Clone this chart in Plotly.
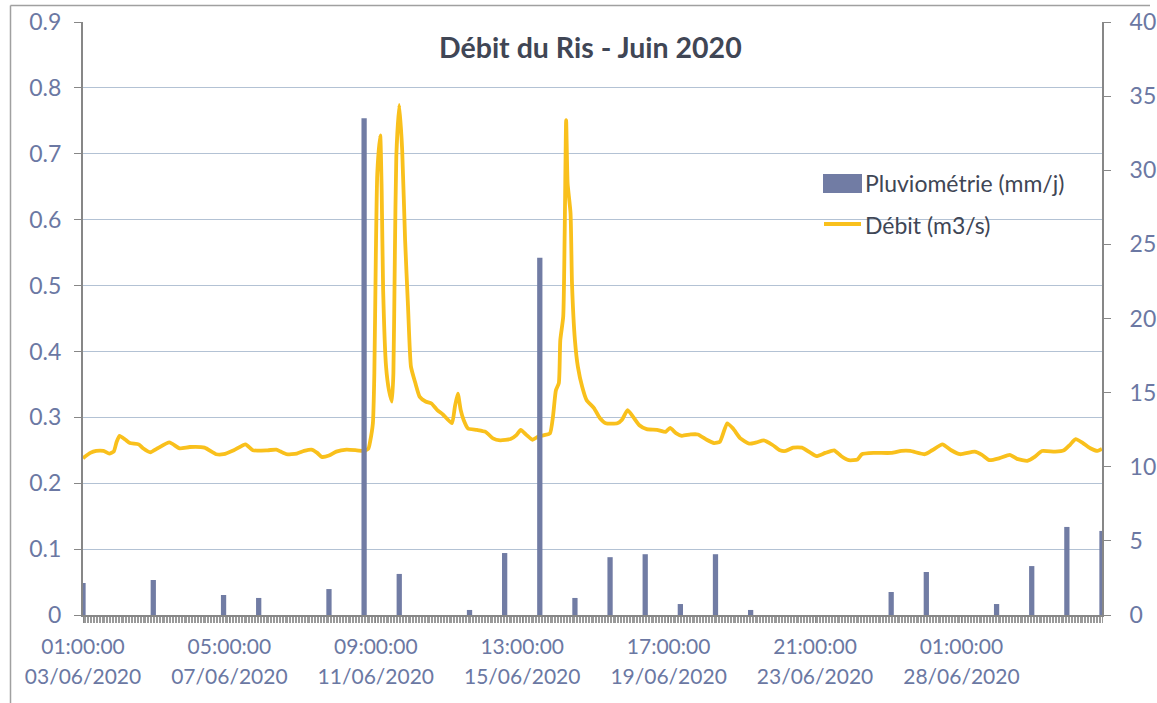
import pandas as pd
import plotly.graph_objects as go

# ---------------- data ----------------
start = pd.Timestamp("2020-06-03 01:00")
n_hours = 696  # hourly categories from 03/06/2020 01:00

# Pluviométrie (mm/j), one value per day (right axis)
pluvio_day_index = list(range(30))
pluvio_values = [2.16, 0, 2.36, 0, 1.35, 1.15, 0, 1.75, 33.5, 2.77,
                 0, 0.34, 4.18, 24.1, 1.15, 3.9, 4.1, 0.74, 4.1, 0.34,
                 0, 0, 0, 1.55, 2.9, 0, 0.74, 3.3, 5.94, 5.67]

# Débit (m3/s) (left axis): hours since start, value
debit_hours = [0, 5, 9, 14, 18, 21, 23, 25, 29, 32, 38, 41, 46, 51, 59, 66, 73, 83, 91, 96,
               103, 111, 116, 126, 132, 135, 139, 146, 151, 156, 160, 163, 168, 173, 180, 187,
               192, 195, 196, 198, 199, 200, 201, 203, 204, 205, 207, 209, 211, 212, 213, 214,
               216, 218, 220, 222, 224, 227, 230, 234, 238, 242, 246, 252, 254, 256, 258, 260,
               263, 269, 275, 280, 285, 292, 296, 299, 303, 307, 311, 315, 319, 321, 323, 325,
               326, 328, 329, 330, 331, 333, 334, 336, 338, 341, 344, 349, 353, 357, 365, 368,
               372, 376, 380, 385, 392, 398, 401, 405, 409, 415, 420, 426, 431, 435, 440, 444,
               449, 455, 460, 465, 471, 476, 480, 485, 491, 497, 501, 507, 513, 518, 523, 529,
               532, 540, 552, 559, 565, 575, 580, 587, 593, 599, 609, 614, 619, 626, 633, 638,
               645, 650, 655, 664, 670, 674, 678, 683, 688, 693, 696]
debit_values = [0.238, 0.246, 0.249, 0.249, 0.245, 0.248, 0.263, 0.272, 0.266, 0.261, 0.259, 0.253,
                0.247, 0.253, 0.262, 0.253, 0.255, 0.254, 0.244, 0.244, 0.250, 0.259, 0.250, 0.250,
                0.251, 0.248, 0.244, 0.245, 0.249, 0.251, 0.246, 0.240, 0.242, 0.248, 0.251, 0.250,
                0.249, 0.253, 0.262, 0.291, 0.367, 0.544, 0.670, 0.728, 0.645, 0.493, 0.377, 0.341,
                0.324, 0.367, 0.544, 0.696, 0.774, 0.706, 0.569, 0.468, 0.377, 0.352, 0.331, 0.324,
                0.321, 0.311, 0.304, 0.291, 0.316, 0.336, 0.311, 0.296, 0.283, 0.281, 0.278, 0.268,
                0.265, 0.267, 0.273, 0.281, 0.273, 0.266, 0.271, 0.273, 0.276, 0.301, 0.341, 0.352,
                0.417, 0.453, 0.579, 0.751, 0.655, 0.610, 0.503, 0.417, 0.377, 0.346, 0.326, 0.314,
                0.299, 0.291, 0.291, 0.296, 0.311, 0.300, 0.288, 0.282, 0.281, 0.278, 0.284, 0.276,
                0.272, 0.274, 0.274, 0.266, 0.261, 0.263, 0.291, 0.283, 0.268, 0.260, 0.262, 0.265,
                0.258, 0.250, 0.249, 0.254, 0.254, 0.246, 0.241, 0.246, 0.250, 0.241, 0.235, 0.236,
                0.244, 0.246, 0.246, 0.249, 0.249, 0.244, 0.250, 0.259, 0.250, 0.244, 0.248, 0.243,
                0.235, 0.238, 0.243, 0.237, 0.234, 0.240, 0.249, 0.248, 0.250, 0.258, 0.267, 0.261,
                0.253, 0.249, 0.252]

tick_hours = [0, 100, 200, 300, 400, 500, 600]
tick_times = ["01:00:00", "05:00:00", "09:00:00", "13:00:00", "17:00:00", "21:00:00", "01:00:00"]
tick_dates = ["03/06/2020", "07/06/2020", "11/06/2020", "15/06/2020", "19/06/2020", "23/06/2020", "28/06/2020"]

title_text = "Débit du Ris - Juin 2020"
name_pluvio = "Pluviométrie (mm/j)"
name_debit = "Débit (m3/s)"

# ---------------- styling ----------------
W, H = 1157, 703
L, R, T, B = 83, 55, 22, 88
PW, PH = W - L - R, H - T - B
FONT = "Lato"
TICK_COLOR = "#6B78A3"
AXIS_COLOR = "#878787"
GRID_COLOR = "#B3C2D4"
BAR_COLOR = "#717CA4"
LINE_COLOR = "#F9C01C"
TEXT_DARK = "#404655"


def px(x):
    return (x - L) / PW


def py(y):
    return (H - B - y) / PH


end = start + pd.Timedelta(hours=n_hours)
debit_x = [start + pd.Timedelta(hours=h) for h in debit_hours]
pluvio_x = [start + pd.Timedelta(days=d) for d in pluvio_day_index]
tickvals = [start + pd.Timedelta(hours=h) for h in tick_hours]

fig = go.Figure()
fig.add_trace(go.Scatter(x=debit_x, y=debit_values, mode="lines", name=name_debit,
                         line=dict(color=LINE_COLOR, width=3.8, shape="spline", smoothing=0.5),
                         xaxis="x", yaxis="y", showlegend=False))
fig.add_trace(go.Bar(x=pluvio_x, y=pluvio_values, name=name_pluvio, marker_color=BAR_COLOR,
                     marker_line_width=0, width=3.6 * 3600 * 1000, xaxis="x2", yaxis="y2",
                     showlegend=False))

xtickfont = dict(family=FONT, size=21, color=TICK_COLOR)
ytickfont = dict(family=FONT, size=23, color=TICK_COLOR)

fig.update_layout(
    template="none",
    width=W, height=H,
    margin=dict(l=L, r=R, t=T, b=B, pad=0, autoexpand=False),
    paper_bgcolor="white", plot_bgcolor="white",
    showlegend=False,
    xaxis=dict(type="date", range=[start, end], tickmode="array", tickvals=tickvals,
               ticktext=tick_times, tickfont=xtickfont, ticks="outside", ticklen=6,
               tickcolor=AXIS_COLOR, tickwidth=1, showline=True, linecolor=AXIS_COLOR,
               linewidth=2, showgrid=False, zeroline=False, ticklabelstandoff=6,
               automargin=False,
               minor=dict(ticks="outside", ticklen=6, tickcolor="#9A9A9A", tickwidth=1,
                          tick0=start, dtick=3600 * 1000, showgrid=False)),
    xaxis2=dict(type="date", range=[start, end], overlaying="x", anchor="y", side="bottom",
                tickmode="array", tickvals=tickvals, ticktext=tick_dates, tickfont=xtickfont,
                ticks="", showline=False, showgrid=False, zeroline=False,
                ticklabelstandoff=47, automargin=False),
    yaxis=dict(range=[0, 0.9], tickmode="array", tickvals=[i / 10 for i in range(10)],
               ticktext=["0"] + [f"0.{i}" for i in range(1, 10)],
               tickfont=ytickfont, ticks="outside",
               ticklen=7, tickcolor=AXIS_COLOR, showline=True, linecolor=AXIS_COLOR,
               linewidth=2, showgrid=True, gridcolor=GRID_COLOR, gridwidth=1.3,
               zeroline=False, ticklabelstandoff=8, automargin=False),
    yaxis2=dict(range=[0, 40], tickmode="array", tickvals=list(range(0, 45, 5)),
                tickfont=ytickfont, overlaying="y",
                anchor="x", side="right", ticks="outside", ticklen=7, tickcolor=AXIS_COLOR,
                showline=True, linecolor=AXIS_COLOR, linewidth=2, showgrid=False,
                zeroline=False, ticklabelstandoff=14, automargin=False),
)

# title
fig.add_annotation(text=f"<b>{title_text}</b>", xref="paper", yref="paper", x=px(590), y=py(47),
                   xanchor="center", yanchor="middle", showarrow=False,
                   font=dict(family=FONT, size=28.5, color=TEXT_DARK))

# custom legend
fig.add_shape(type="rect", xref="paper", yref="paper", x0=px(823), x1=px(862), y0=py(193), y1=py(174),
              fillcolor=BAR_COLOR, line=dict(width=0))
fig.add_shape(type="line", xref="paper", yref="paper", x0=px(824), x1=px(861), y0=py(224), y1=py(224),
              line=dict(color=LINE_COLOR, width=3.8))
fig.add_annotation(text=name_pluvio, xref="paper", yref="paper", x=px(863), y=py(183),
                   xanchor="left", yanchor="middle", showarrow=False,
                   font=dict(family=FONT, size=23, color=TEXT_DARK))
fig.add_annotation(text=name_debit, xref="paper", yref="paper", x=px(863), y=py(225),
                   xanchor="left", yanchor="middle", showarrow=False,
                   font=dict(family=FONT, size=23, color=TEXT_DARK))

# chart border (top and left edges visible)
fig.add_shape(type="line", xref="paper", yref="paper", x0=px(10.5), x1=px(1150), y0=py(5.5), y1=py(5.5),
              line=dict(color="#A0A0A0", width=1.5))
fig.add_shape(type="line", xref="paper", yref="paper", x0=px(10.5), x1=px(10.5), y0=py(5.5), y1=py(703),
              line=dict(color="#A0A0A0", width=1.5))

fig.write_html("out.html", config={"displayModeBar": False},
               post_script="document.body.style.margin='0';document.body.style.overflow='hidden';")
